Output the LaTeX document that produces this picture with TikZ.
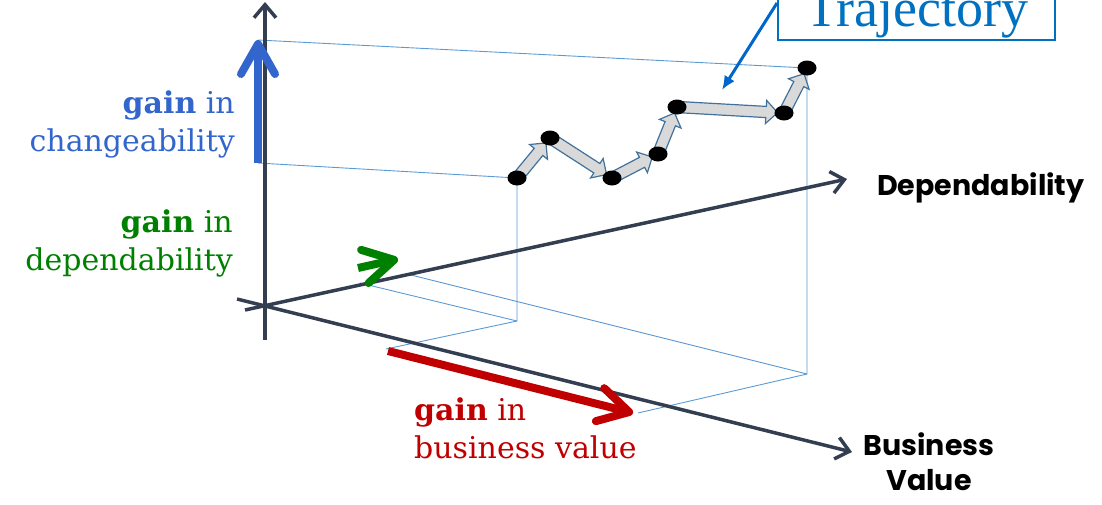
\documentclass[tikz,border=0pt]{standalone}
\usepackage{fontspec}
\setmainfont{DejaVu Serif}
\newfontfamily\axisfont{Poppins}
\newfontfamily\calloutfont{Liberation Serif}
\usepackage{tikz}
\usetikzlibrary{positioning,arrows.meta,shapes.geometric,shapes.arrows,calc}
\definecolor{axisink}{HTML}{333F50}
\definecolor{projline}{HTML}{5B9BD5}
\definecolor{changeblue}{HTML}{3366CC}
\definecolor{depgreen}{HTML}{008000}
\definecolor{valuered}{HTML}{C00000}
\definecolor{stepfill}{HTML}{D9D9D9}
\definecolor{stepedge}{HTML}{41719C}
\definecolor{callblue}{HTML}{0070C0}
\definecolor{calltip}{HTML}{0066CC}
\tikzset{
  axisline/.style={draw=axisink,line width=3.5pt,-{Straight Barb[length=13pt,width=22pt]}},
  proj/.style={draw=projline,line width=0.9pt},
  gain/.style={line width=8pt,-{Straight Barb[length=30pt,width=34pt,round]}},
  trajpt/.style={ellipse,fill=black,minimum width=19pt,minimum height=15pt,inner sep=0pt},
  stepar/.style={single arrow,draw=stepedge,fill=stepfill,line width=1.2pt,
    inner xsep=0pt,inner ysep=5pt,minimum width=22pt,single arrow head extend=6pt,
    single arrow head indent=0pt},
  gainlbl/.style={font=\fontsize{30}{38}\selectfont,inner sep=0pt},
  axislbl/.style={font=\axisfont\bfseries\fontsize{28.5}{35}\selectfont,inner sep=0pt},
  callbox/.style={draw=callblue,line width=1.5pt,text=callblue,outer sep=0pt,
    font=\calloutfont\fontsize{54}{60}\selectfont,minimum width=277pt,inner ysep=2pt},
  callarrow/.style={draw=calltip,line width=3pt,-{Latex[length=14pt,width=12pt]}},
}
\newcommand{\trajstep}[2]{%
  \path let \p1=(#1), \p2=($(#2)!7pt!(#1)$),
    \n1={atan2(\y2-\y1,\x2-\x1)}, \n2={veclen(\x2-\x1,\y2-\y1)} in
    node[stepar,rotate=\n1,minimum height=\n2,anchor=tail] (step#1) at (\p1) {};}

\begin{document}
\begin{tikzpicture}[x=1pt,y=-1pt]
  \useasboundingbox (0,0) rectangle (1102,504);
  \coordinate (vbot) at (265,340);
  \coordinate (vtop) at (265,2);
  \coordinate (depfrom) at (245,310);
  \coordinate (depto) at (847,179);
  \coordinate (bvfrom) at (237,299);
  \coordinate (bvto) at (852,452);
  \coordinate (ch1) at (258,163);
  \coordinate (ch2) at (258,40);
  \coordinate (floor1) at (517,321);
  \coordinate (floor2) at (807,374);
  \coordinate (dep1) at (360,283);
  \coordinate (dep2) at (407,274);
  \coordinate (bv1) at (386,349);
  \coordinate (bv2) at (638,413);
  \coordinate (traj1) at (517,178);
  \coordinate (traj2) at (550,138);
  \coordinate (traj3) at (612,178);
  \coordinate (traj4) at (658,154);
  \coordinate (traj5) at (677,107);
  \coordinate (traj6) at (784,113);
  \coordinate (traj7) at (807,68);
  % projections
  \draw[proj] (ch2) -- (traj7) -- (floor2) -- (bv2);
  \draw[proj] (floor2) -- (dep2);
  \draw[proj] (ch1) -- (traj1) -- (floor1) -- (bv1);
  \draw[proj] (floor1) -- (dep1);
  % axes
  \draw[axisline] (vbot) -- (vtop);
  \draw[axisline] (depfrom) -- (depto);
  \draw[axisline] (bvfrom) -- (bvto);
  \draw[gain,draw=changeblue] (ch1) -- (ch2);
  \draw[gain,draw=depgreen] (358,268) -- (398,259);
  \draw[gain,draw=valuered] (388,351) -- (633,413);
  % trajectory
  \trajstep{traj1}{traj2}
  \trajstep{traj2}{traj3}
  \trajstep{traj3}{traj4}
  \trajstep{traj4}{traj5}
  \trajstep{traj5}{traj6}
  \trajstep{traj6}{traj7}
  \foreach \i in {1,...,7}
    \node[trajpt] (dot\i) at (traj\i) {};
  \node[callbox,anchor=south] (trajbox) at (916.5,40) {Trajectory};
  \coordinate (callfrom) at (777,3);
  \coordinate (callto) at (722,90);
  \draw[callarrow] (callfrom) -- (callto);
  % labels
  \node[axislbl,anchor=base west] (deplbl) at (877,195) {Dependability};
  \node[axislbl,align=center,anchor=base] (bvlbl) at (929,490) {Business\\Value};
  \node[gainlbl,text=changeblue,align=right,anchor=base east] (changelbl) at (235,151) {\textbf{gain} in\\changeability};
  \node[gainlbl,text=depgreen,align=right,anchor=base east] (dependlbl) at (233,270) {\textbf{gain} in\\dependability};
  \node[gainlbl,text=valuered,align=left,anchor=base west] (valuelbl) at (414,458) {\textbf{gain} in\\business value};
\end{tikzpicture}
\end{document}
